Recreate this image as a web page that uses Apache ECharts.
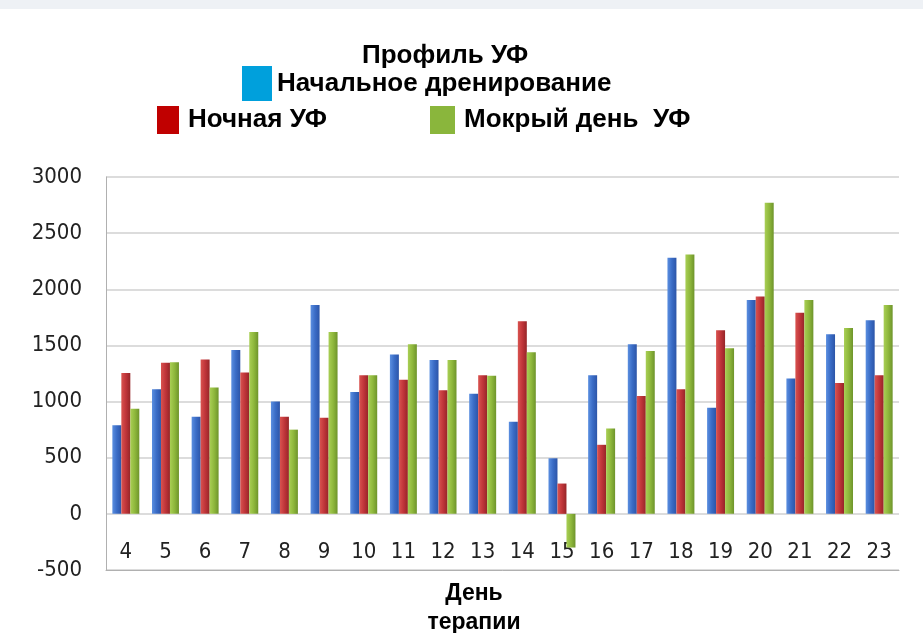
<!DOCTYPE html>
<html>
<head>
<meta charset="utf-8">
<script src="https://cdn.jsdelivr.net/npm/echarts@6/dist/echarts.min.js"></script>
<style>
html,body{margin:0;padding:0;background:#fff;}
#chart{width:923px;height:633px;}
</style>
</head>
<body>
<div id="chart"></div>
<script>
const categories = ['4','5','6','7','8','9','10','11','12','13','14','15','16','17','18','19','20','21','22','23'];
const initialDrain = [790,1110,865,1460,1000,1860,1085,1420,1370,1070,820,495,1235,1510,2280,945,1905,1205,1600,1725];
const nightUF = [1255,1345,1375,1260,865,855,1235,1195,1100,1235,1715,270,615,1050,1110,1635,1935,1790,1165,1235];
const wetDayUF = [935,1350,1125,1620,750,1620,1235,1510,1370,1230,1440,-300,760,1450,2310,1475,2770,1905,1655,1860];
const yTicks = [-500,0,500,1000,1500,2000,2500,3000];
const seriesNames = ['Начальное дренирование','Ночная УФ','Мокрый день  УФ'];

const narrow = "'Liberation Sans Narrow','DejaVu Sans Condensed','Liberation Sans',sans-serif";
const boldFont = "'Liberation Sans Narrow','Liberation Sans',Arial,sans-serif";

function grad(light, mid, dark){
  return new echarts.graphic.LinearGradient(0,0,1,0,[
    {offset:0,color:light},{offset:0.5,color:mid},{offset:1,color:dark}
  ]);
}

const chart = echarts.init(document.getElementById('chart'), null, {renderer:'canvas'});
const legendText = {fontFamily: boldFont, fontWeight:'bold', fontSize:26, color:'#000'};
chart.setOption({
  animation:false,
  backgroundColor:'#fff',
  graphic:[{type:'rect', shape:{x:0,y:0,width:923,height:9}, style:{fill:'#eef1f5'}, silent:true}],
  title:[
    {text:'Профиль УФ', left:357, top:38, textStyle:{fontFamily:boldFont,fontWeight:'bold',fontSize:26,color:'#000'}},
    {text:'День\nтерапии', left:469, top:574, textAlign:'center', textStyle:{fontFamily:boldFont,fontWeight:'bold',fontSize:23,color:'#000',lineHeight:29}}
  ],
  legend:[
    {data:[{name:seriesNames[0], itemStyle:{color:'#00a0dc'}}], left:242, top:66, itemWidth:30, itemHeight:35, itemGap:0, icon:'rect', textStyle:legendText, padding:0},
    {data:[{name:seriesNames[1], itemStyle:{color:'#c00000'}}], left:157, top:106, itemWidth:22, itemHeight:28, icon:'rect', textStyle:Object.assign({},legendText,{padding:[0,0,0,4]}), padding:0},
    {data:[{name:seriesNames[2], itemStyle:{color:'#8ab63c'}}], left:430, top:106, itemWidth:25, itemHeight:28, icon:'rect', textStyle:Object.assign({},legendText,{padding:[0,0,0,4]}), padding:0}
  ],
  grid:{left:106, right:24, top:177, bottom:63, containLabel:false},
  xAxis:{
    type:'category', data:categories,
    axisLine:{show:true, onZero:false, lineStyle:{color:'#b0b0b0', width:1}},
    axisTick:{show:false},
    axisLabel:{inside:true, margin:7, color:'#222', fontSize:22, fontFamily:narrow, verticalAlign:'bottom'}
  },
  yAxis:{
    type:'value', min:-500, max:3000, interval:500,
    axisLine:{show:true, lineStyle:{color:'#b0b0b0'}},
    axisTick:{show:false},
    splitLine:{lineStyle:{color:'#d0d0d0', width:1.5}},
    axisLabel:{color:'#222', fontSize:22, fontFamily:narrow, margin:24,
      formatter:function(v){return yTicks.indexOf(v)>=0 ? String(v) : '';}}
  },
  series:[
    {name:seriesNames[0], type:'bar', data:initialDrain, barGap:'0%', barCategoryGap:'32%',
      itemStyle:{color:grad('#5b8fe0','#3a6cc6','#2c55a8')}},
    {name:seriesNames[1], type:'bar', data:nightUF, barGap:'0%', barCategoryGap:'32%',
      itemStyle:{color:grad('#d9534f','#c0353a','#962528')}},
    {name:seriesNames[2], type:'bar', data:wetDayUF, barGap:'0%', barCategoryGap:'32%',
      itemStyle:{color:grad('#a9cf55','#8fb83c','#6e942b')}}
  ]
});
</script>
</body>
</html>
